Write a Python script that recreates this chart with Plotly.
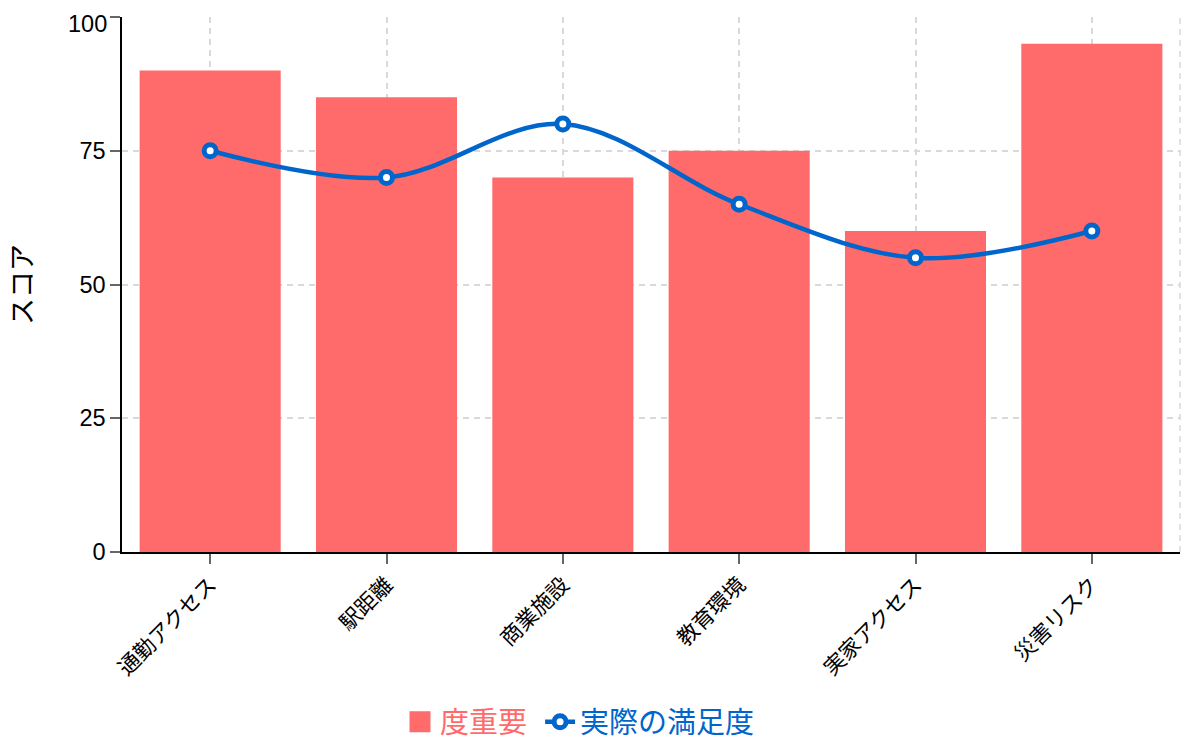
import plotly.graph_objects as go

categories = ["通勤アクセス", "駅距離", "商業施設", "教育環境", "実家アクセス", "災害リスク"]
importance = [90, 85, 70, 75, 60, 95]
satisfaction = [75, 70, 80, 65, 55, 60]
y_ticks = [0, 25, 50, 75, 100]

bar_color = "#FF6B6B"
line_color = "#0066CC"
grid_color = "#d9d9d9"
grid_dash = "6px,5px"
font_family = "Liberation Sans, Noto Sans CJK JP, sans-serif"

fig = go.Figure()
fig.add_trace(go.Bar(
    x=categories, y=importance, name="度重要", showlegend=False,
    marker=dict(color=bar_color, line=dict(width=0)),
))
# legend entry for the bars (larger square symbol)
fig.add_trace(go.Scatter(
    x=[None], y=[None], mode="markers",
    name=f"<span style='color:{bar_color}'>度重要</span>&nbsp;",
    marker=dict(symbol="square", size=16, color=bar_color,
                line=dict(color=bar_color, width=5)),
))
fig.add_trace(go.Scatter(
    x=categories, y=satisfaction,
    name=f"<span style='color:{line_color}'>実際の満足度</span>",
    mode="lines+markers",
    line=dict(color=line_color, width=4.5, shape="spline"),
    marker=dict(size=12, color="white", line=dict(color=line_color, width=5)),
))

axis_common = dict(
    showline=True, linecolor="black", linewidth=1.5,
    ticks="outside", tickcolor="#666", ticklen=10, tickwidth=1.5,
    showgrid=True, gridcolor=grid_color, griddash=grid_dash, gridwidth=1.5,
    automargin=False, zeroline=False, layer="below traces",
)

# top tick label is drawn as an annotation, nudged down so it stays inside the canvas
tick_text = [str(v) for v in y_ticks[:-1]] + [""]

fig.update_layout(
    template="none",
    width=1197, height=751,
    margin=dict(l=114, r=25, t=9, b=207, autoexpand=False),
    plot_bgcolor="white", paper_bgcolor="white",
    font=dict(family=font_family, size=22, color="black"),
    bargap=0.2,
    showlegend=True,
    legend=dict(orientation="h", xref="container", x=392 / 1197, xanchor="left",
                yref="container", y=(751 - 714) / 751, yanchor="middle",
                font=dict(size=29), bgcolor="rgba(0,0,0,0)"),
    xaxis=dict(**axis_common, tickangle=-45, tickfont=dict(size=21.5)),
    yaxis=dict(**axis_common, range=[0, 100], tickvals=y_ticks, ticktext=tick_text,
               tickfont=dict(size=23.5),
               title=dict(text="スコア", font=dict(size=27), standoff=40)),
    annotations=[dict(
        text=str(y_ticks[-1]), xref="paper", x=0, xanchor="right", xshift=-13,
        yref="y", y=y_ticks[-1], yanchor="middle", yshift=-7,
        showarrow=False, font=dict(size=23.5, color="black"),
    )],
    shapes=[dict(
        type="line", xref="paper", yref="paper", x0=1, x1=1, y0=0, y1=1,
        line=dict(color=grid_color, width=1.5, dash=grid_dash), layer="below",
    )],
)

fig.write_html("out.html")
